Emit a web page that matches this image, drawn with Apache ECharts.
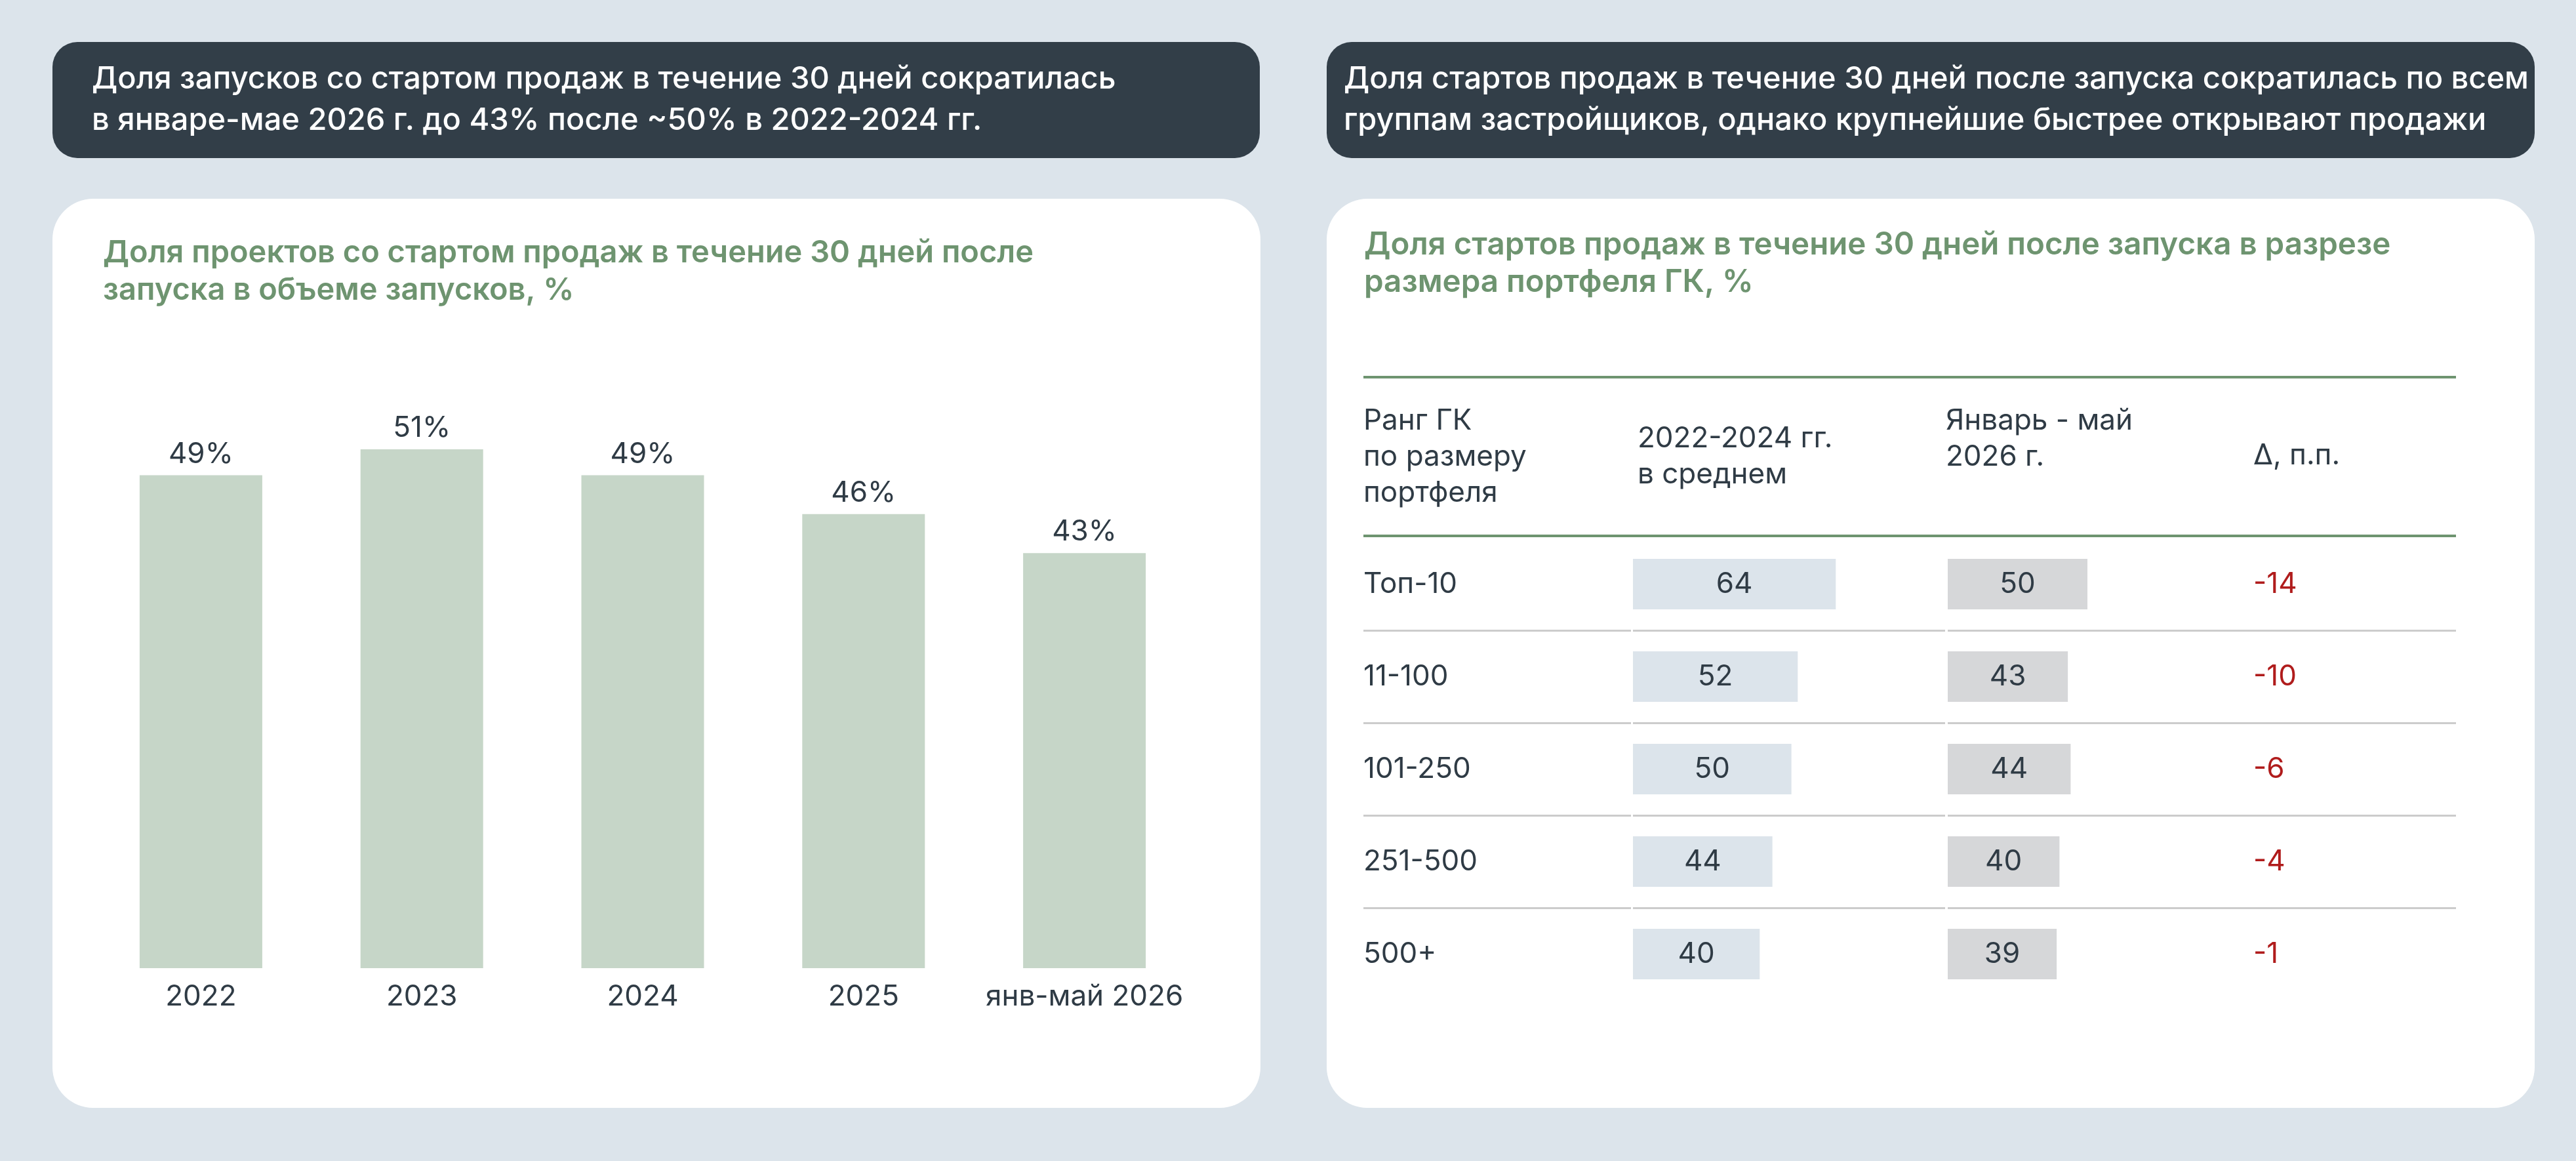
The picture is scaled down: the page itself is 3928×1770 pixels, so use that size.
<!DOCTYPE html>
<html>
<head>
<meta charset="utf-8">
<script src="https://cdn.jsdelivr.net/npm/echarts@6/dist/echarts.min.js"></script>
<style>
  html, body { margin: 0; padding: 0; background: #dce4eb; }
  #main { width: 3928px; height: 1770px; }
</style>
</head>
<body>
<div id="main"></div>
<script>
// left chart: share of launches with sales start within 30 days, %
const years = ['2022', '2023', '2024', '2025', 'янв-май 2026'];
const shareValues = [49, 51, 49, 46, 43];

// right table: by developer portfolio rank
const ranks = ['Топ-10', '11-100', '101-250', '251-500', '500+'];
const avg2022to2024 = [64, 52, 50, 44, 40];
const janMay2026 = [50, 43, 44, 40, 39];
const deltaPp = [-14, -10, -6, -4, -1];

const FONT = 'Inter';
const DARK = '#2f3b45';
const GREEN = '#6e9470';
const ROW_LINE = '#cccccc';

const chart = echarts.init(document.getElementById('main'), null, { renderer: 'canvas' });

// category axis for a table column: rows + grey separators
function tableYAxis(gridIndex, showLabels, formatter, color) {
    return {
        type: 'category',
        gridIndex: gridIndex,
        data: ranks,
        inverse: true,
        axisLine: { show: false },
        axisTick: { show: false },
        axisLabel: {
            show: showLabels,
            interval: 0,
            align: 'left',
            margin: 0,
            fontFamily: FONT,
            fontSize: 44,
            color: color || DARK,
            formatter: formatter
        },
        splitLine: {
            show: true,
            interval: 0,
            showMinLine: false,
            showMaxLine: false,
            lineStyle: { color: ROW_LINE, width: 3 }
        }
    };
}

function hiddenValueX(gridIndex, max) {
    return {
        type: 'value',
        gridIndex: gridIndex,
        min: 0,
        max: max,
        show: false
    };
}

const option = {
    backgroundColor: '#dce4eb',
    animation: false,
    graphic: [
        // dark header boxes
        { type: 'rect', shape: { x: 80, y: 64, width: 1841, height: 177, r: 38 }, style: { fill: '#323e48' }, z: -10 },
        { type: 'rect', shape: { x: 2023, y: 64, width: 1842, height: 177, r: 38 }, style: { fill: '#323e48' }, z: -10 },
        // white cards
        { type: 'rect', shape: { x: 80, y: 303, width: 1842, height: 1386, r: 62 }, style: { fill: '#ffffff' }, z: -10 },
        { type: 'rect', shape: { x: 2023, y: 303, width: 1842, height: 1386, r: 62 }, style: { fill: '#ffffff' }, z: -10 },
        // green rules of the table header
        { type: 'rect', shape: { x: 2079, y: 573, width: 1666, height: 4 }, style: { fill: GREEN }, z: -5 },
        { type: 'rect', shape: { x: 2079, y: 815, width: 1666, height: 4 }, style: { fill: GREEN }, z: -5 }
    ],
    title: [
        {
            text: 'Доля запусков со стартом продаж в течение 30 дней сократилась\nв январе-мае 2026 г. до 43% после ~50% в 2022-2024 гг.',
            left: 140, top: 89, padding: 0,
            textStyle: { fontFamily: FONT, fontSize: 47, fontWeight: 500, color: '#ffffff', lineHeight: 63 }
        },
        {
            text: 'Доля стартов продаж в течение 30 дней после запуска сократилась по всем\nгруппам застройщиков, однако крупнейшие быстрее открывают продажи',
            left: 2049, top: 89, padding: 0,
            textStyle: { fontFamily: FONT, fontSize: 47, fontWeight: 500, color: '#ffffff', lineHeight: 63 }
        },
        {
            text: 'Доля проектов со стартом продаж в течение 30 дней после\nзапуска в объеме запусков, %',
            left: 157, top: 357, padding: 0,
            textStyle: { fontFamily: FONT, fontSize: 47, fontWeight: 600, color: GREEN, lineHeight: 57 }
        },
        {
            text: 'Доля стартов продаж в течение 30 дней после запуска в разрезе\nразмера портфеля ГК, %',
            left: 2080, top: 345, padding: 0,
            textStyle: { fontFamily: FONT, fontSize: 47.5, fontWeight: 600, color: GREEN, lineHeight: 57 }
        },
        {
            text: 'Ранг ГК\nпо размеру\nпортфеля',
            left: 2079, top: 614, padding: 0,
            textStyle: { fontFamily: FONT, fontSize: 44, fontWeight: 400, color: DARK, lineHeight: 55 }
        },
        {
            text: '2022-2024 гг.\nв среднем',
            left: 2497, top: 641, padding: 0,
            textStyle: { fontFamily: FONT, fontSize: 44, fontWeight: 400, color: DARK, lineHeight: 55 }
        },
        {
            text: 'Январь - май\n2026 г.',
            left: 2967, top: 614, padding: 0,
            textStyle: { fontFamily: FONT, fontSize: 44, fontWeight: 400, color: DARK, lineHeight: 55 }
        },
        {
            text: '∆, п.п.',
            left: 3436, top: 667, padding: 0,
            textStyle: { fontFamily: FONT, fontSize: 44, fontWeight: 400, color: DARK, lineHeight: 55 }
        }
    ],
    grid: [
        // 0: bar chart
        { left: 138, width: 1684, top: 507, bottom: 294 },
        // 1: rank labels column
        { left: 2079, width: 408, top: 820, height: 705 },
        // 2: 2022-2024 column
        { left: 2490, width: 476, top: 820, height: 705 },
        // 3: Jan-May 2026 column
        { left: 2970, width: 466, top: 820, height: 705 },
        // 4: delta column
        { left: 3436, width: 309, top: 820, height: 705 }
    ],
    xAxis: [
        {
            type: 'category',
            gridIndex: 0,
            data: years,
            axisLine: { show: false },
            axisTick: { show: false },
            axisLabel: { fontFamily: FONT, fontSize: 44, color: DARK, margin: 22, interval: 0 }
        },
        hiddenValueX(1, 1),
        hiddenValueX(2, 98.5),
        hiddenValueX(3, 109.4),
        hiddenValueX(4, 1)
    ],
    yAxis: [
        { type: 'value', gridIndex: 0, min: 11, max: 60, show: false },
        tableYAxis(1, true),
        tableYAxis(2, false),
        tableYAxis(3, false),
        tableYAxis(4, true, function (v, i) { return String(deltaPp[i]); }, '#b01c1c')
    ],
    series: [
        {
            type: 'bar',
            xAxisIndex: 0, yAxisIndex: 0,
            data: shareValues,
            barWidth: 187,
            itemStyle: { color: '#c6d6c8' },
            label: {
                show: true, position: 'top', distance: 10,
                fontFamily: FONT, fontSize: 44, color: DARK,
                formatter: '{c}%'
            }
        },
        {
            type: 'bar',
            xAxisIndex: 2, yAxisIndex: 2,
            data: avg2022to2024,
            barWidth: 77,
            itemStyle: { color: '#dce4eb' },
            label: { show: true, position: 'inside', fontFamily: FONT, fontSize: 44, color: DARK }
        },
        {
            type: 'bar',
            xAxisIndex: 3, yAxisIndex: 3,
            data: janMay2026,
            barWidth: 77,
            itemStyle: { color: '#d6d7d9' },
            label: { show: true, position: 'inside', fontFamily: FONT, fontSize: 44, color: DARK }
        }
    ]
};

chart.setOption(option);
</script>
</body>
</html>
